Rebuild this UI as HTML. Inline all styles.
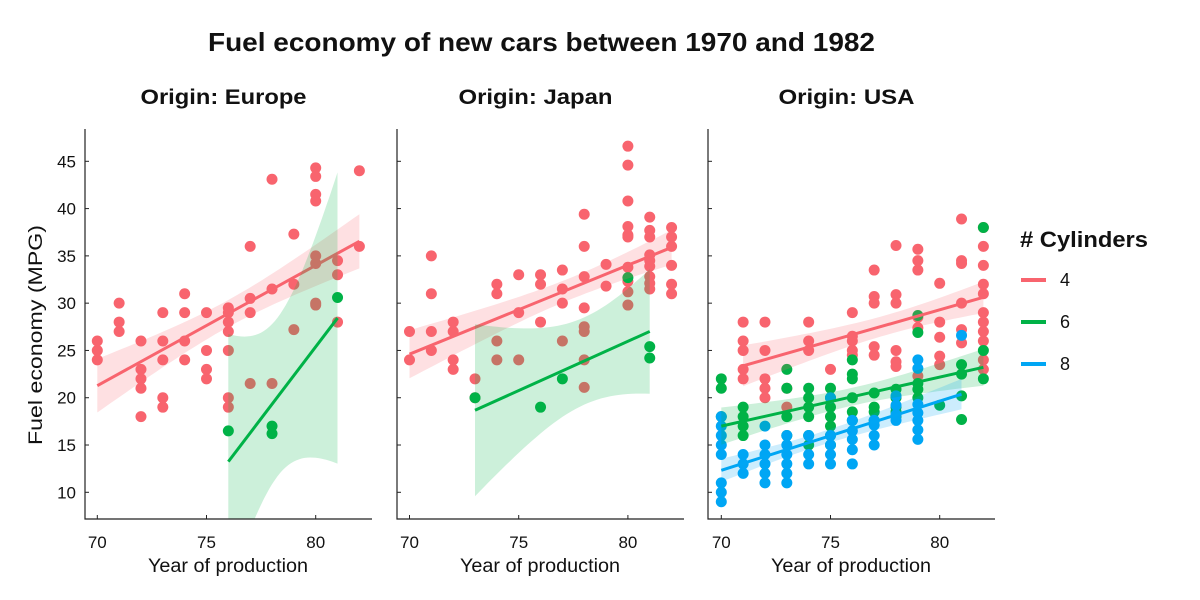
<!DOCTYPE html>
<html><head><meta charset="utf-8">
<style>
body{margin:0;background:#fff;font-family:"Liberation Sans",sans-serif;}
svg{display:block}
text{font-family:"Liberation Sans",sans-serif;fill:#111}
</style></head>
<body>
<svg id="chart" width="1200" height="600">
<text x="208" y="51" font-size="26" font-weight="bold" textLength="667" lengthAdjust="spacingAndGlyphs">Fuel economy of new cars between 1970 and 1982</text>
<text x="42" y="335" font-size="19" text-anchor="middle" textLength="220" lengthAdjust="spacingAndGlyphs" transform="rotate(-90 42 335)">Fuel economy (MPG)</text>
<g>
<text x="1020" y="247" font-size="22" font-weight="bold" textLength="128" lengthAdjust="spacingAndGlyphs"># Cylinders</text>
</g>
</svg>
<script>
const years = [70,75,80];
const yTicks = [10,15,20,25,30,35,40,45];
const panelTitles = ["Origin: Europe","Origin: Japan","Origin: USA"];
const cylLabels = ["4","6","8"];
const cylColors = ["#F8646E","#00B247","#00A6F4"];
const bandColors = ["rgba(248,100,110,0.2)","rgba(0,178,71,0.2)","rgba(0,166,244,0.2)"];

const eu4X = [70,70,70,71,71,71,72,72,72,72,72,73,73,73,73,73,74,74,74,74,75,75,75,75,76,76,76,76,76,76,76,77,77,77,77,78,78,78,79,79,79,80,80,80,80,80,80,80,80,81,81,81,82,82];
const eu4Y = [26,25,24,30,28,27,26,23,22,21,18,29,26,24,20,19,31,29,26,24,29,25,23,22,29.5,29,28,27,25,20,19,36,30.5,29,21.5,43.1,31.5,21.5,37.3,32,27.2,44.3,43.4,41.5,40.8,35,34.2,30,29.8,34.5,33,28,44,36];
const eu6X = [76,78,78,81];
const eu6Y = [16.5,17,16.2,30.6];

const jp4X = [70,70,71,71,71,71,72,72,72,72,73,73,74,74,74,74,75,75,75,76,76,76,77,77,77,77,78,78,78,78,78,78,78,78,79,79,80,80,80,80,80,80,80,80,80,80,81,81,81,81,81,81,81,81,81,82,82,82,82,82,82];
const jp4Y = [27,24,35,31,27,25,28,27,24,23,22,20,32,31,26,24,33,29,24,33,32,28,33.5,31.5,30,26,39.4,36,32.8,29.5,27.5,27,24,21.1,34.1,31.8,46.6,44.6,40.8,38.1,37.2,37,33.8,32.3,31.2,29.8,39.1,37.7,37,35.1,34.5,33.9,32.8,32.1,31.5,38,37,36,34,32,31];
const jp6X = [73,76,77,80,81,81];
const jp6Y = [20,19,22,32.7,25.4,24.2];

const us4X = [71,71,71,71,71,72,72,72,72,72,73,73,74,74,74,75,76,76,76,76,76,77,77,77,77,77,78,78,78,78,78,78,79,79,79,79,79,79,80,80,80,80,80,81,81,81,81,81,81,82,82,82,82,82,82,82,82,82,82,82];
const us4Y = [28,26,25,23,22,28,25,22,21,20,21,19,28,26,25,23,29,26.5,26,25,24.5,33.5,30.7,30,25.4,24.5,36.1,30.9,30,25,23.8,23.3,35.7,34.5,33.5,28.5,27.4,22.3,32.1,28,26.4,24.4,23.5,38.9,34.5,34.2,30,27.2,25.8,38,36,34,32,31,29,28,27,26,24,23];
const us6X = [70,70,70,71,71,71,71,73,73,73,73,74,74,74,74,74,74,75,75,75,75,75,75,75,76,76,76,76,76,76,77,77,77,77,78,78,78,78,78,79,79,79,79,79,80,81,81,81,81,82,82,82];
const us6Y = [22,21,18,19,18,17,16,23,21,18,16,21,20,19,18,16,15,21,20,19,18,17,16,15,24,22.5,22,20,18.5,17.6,20.5,19,18.5,17.6,20.9,20,19,18.5,18,28.7,26.9,21.5,20.9,20,19.2,23.5,22.5,20.2,17.7,38,25,22];
const us8X = [70,70,70,70,70,70,70,70,71,71,71,72,72,72,72,72,72,73,73,73,73,73,73,74,74,74,75,75,75,75,75,76,76,76,76,76,77,77,77,77,78,78,78,78,79,79,79,79,79,79,79,81];
const us8Y = [18,17,16,15,14,11,10,9,14,13,12,17,15,14,13,12,11,16,15,14,13,12,11,16,14,13,20,16,15,14,13,17.6,16.5,15.6,14.5,13,17.6,17.1,16,15,20.2,19.2,18.2,17.6,24,23.1,19.3,18.4,17.6,16.6,15.6,26.6];

const panels = [
  {left:85, x70:97.3, series:[[eu4X,eu4Y,0],[eu6X,eu6Y,1]]},
  {left:397, x70:409.5, series:[[jp4X,jp4Y,0],[jp6X,jp6Y,1]]},
  {left:708, x70:721.3, series:[[us4X,us4Y,0],[us6X,us6Y,1],[us8X,us8Y,2]]}
];
const NS="http://www.w3.org/2000/svg";
const svg=document.getElementById('chart');
const plotTop=129, plotBottom=519, pw=287;
const yS=v=>492.3-(v-10)*9.457;
function mk(tag,attrs,parent){const e=document.createElementNS(NS,tag);for(const k in attrs)e.setAttribute(k,attrs[k]);(parent||svg).appendChild(e);return e;}
function tcrit(df){const t={1:12.71,2:4.30,3:3.18,4:2.78,5:2.57,6:2.45,7:2.36,8:2.31,9:2.26,10:2.23};return t[df]||(1.96+2.4/df);}
const defs=mk('defs',{});
const titleWidths=[166,154,136];
panels.forEach((p,pi)=>{
  const xS=v=>p.x70+(v-70)*21.84;
  const g=mk('g',{});
  
  
  const cp=mk('clipPath',{id:'cp'+pi},defs);
  mk('rect',{x:p.left,y:plotTop,width:pw,height:plotBottom-plotTop},cp);
  const pt=mk('text',{x:p.left+pw/2-5,y:104,'font-size':21,'font-weight':'bold','text-anchor':'middle',textLength:titleWidths[pi],lengthAdjust:'spacingAndGlyphs'},g);
  pt.textContent=panelTitles[pi];
  
  
  p.series.forEach(([X,Y,c])=>{
    X.forEach((x,i)=>{
      const d=mk('circle',{cx:xS(x),cy:yS(Y[i]),r:5.5,fill:cylColors[c]},g);
      
      
    });
  });
  p.series.forEach(([X,Y,c])=>{
    const n=X.length;const mx=X.reduce((a,b)=>a+b)/n,my=Y.reduce((a,b)=>a+b)/n;
    let sxx=0,sxy=0;X.forEach((x,i)=>{sxx+=(x-mx)**2;sxy+=(x-mx)*(Y[i]-my);});
    const b=sxy/sxx,a=my-b*mx;let sse=0;X.forEach((x,i)=>{sse+=(Y[i]-a-b*x)**2;});
    const s=Math.sqrt(sse/(n-2)),t=tcrit(n-2);
    const x0=Math.min(...X),x1=Math.max(...X);
    const up=[],lo=[];
    for(let k=0;k<=40;k++){const x=x0+(x1-x0)*k/40;const f=a+b*x;const se=s*Math.sqrt(1/n+(x-mx)**2/sxx);
      up.push(xS(x).toFixed(1)+','+yS(f+t*se).toFixed(1));lo.unshift(xS(x).toFixed(1)+','+yS(f-t*se).toFixed(1));}
    const band=mk('polygon',{points:up.concat(lo).join(' '),fill:bandColors[c],'clip-path':'url(#cp'+pi+')'},g);
    
    
    const ln=mk('line',{x1:xS(x0),y1:yS(a+b*x0),x2:xS(x1),y2:yS(a+b*x1),stroke:cylColors[c],'stroke-width':3},g);
    
    
  });
  const ax=mk('path',{d:`M${p.left},${plotTop}V${plotBottom}H${p.left+pw}`,fill:'none',stroke:'#222','stroke-width':1.2},g);
  
  
  yTicks.forEach(v=>{
    mk('line',{x1:p.left,x2:p.left+4,y1:yS(v),y2:yS(v),stroke:'#222','stroke-width':1},g);
    if(pi===0){const tt=mk('text',{x:p.left-9,y:yS(v)+6,'font-size':17,'text-anchor':'end'},g);tt.textContent=v;
      
      }
  });
  years.forEach(v=>{
    mk('line',{x1:xS(v),x2:xS(v),y1:plotBottom,y2:plotBottom-4,stroke:'#222','stroke-width':1},g);
    const tt=mk('text',{x:xS(v),y:548,'font-size':17,'text-anchor':'middle'},g);tt.textContent=v;
    
    
  });
  const xl=mk('text',{x:p.left+143,y:572,'font-size':19,'text-anchor':'middle',textLength:160,lengthAdjust:'spacingAndGlyphs'},g);
  xl.textContent='Year of production';
  
  
});
cylLabels.forEach((l,i)=>{
  const y=280+i*42;
  const ln=mk('line',{x1:1021,x2:1046,y1:y,y2:y,stroke:cylColors[i],'stroke-width':4});
  
  
  const t=mk('text',{x:1060,y:y+6,'font-size':18});t.textContent=l;
  
  
});
</script>
</body></html>
